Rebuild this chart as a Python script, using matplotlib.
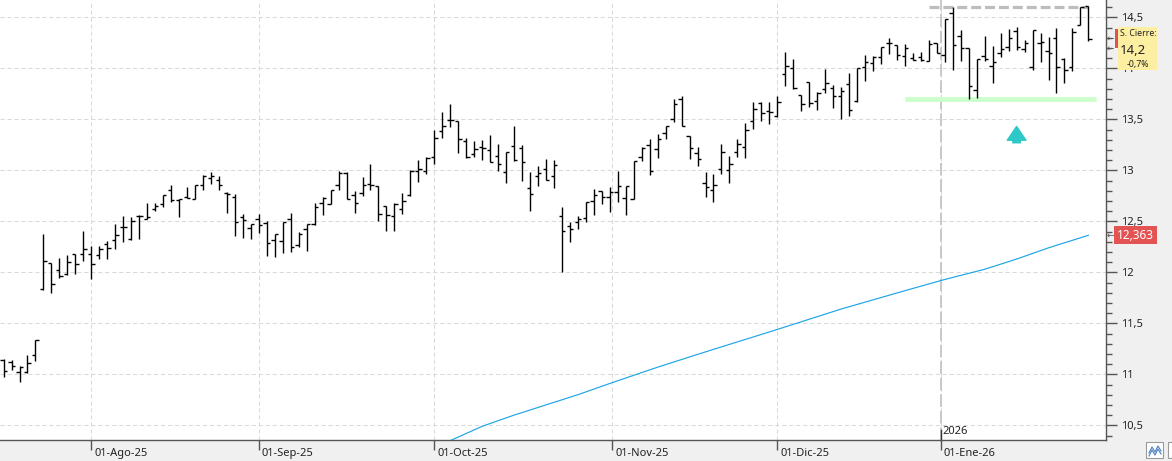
import numpy as np
import pandas as pd
import matplotlib
matplotlib.use("Agg")
import matplotlib.pyplot as plt
import matplotlib.transforms as mtransforms
from matplotlib.patches import Rectangle
from matplotlib.ticker import MultipleLocator, FuncFormatter

plt.rcParams['font.family'] = ['Noto Sans', 'DejaVu Sans']

# trading days (BME closed on these)
holidays = ['2025-12-25', '2025-12-26', '2026-01-01']
dates = pd.bdate_range('2025-07-17', '2026-01-28')
dates = dates[~dates.isin(pd.to_datetime(holidays))]

opens = [11.14, 11.12, 11.02, 11.02, 11.19, 11.84, 12.09, 12.02, 11.98, 12.18,
         12.18, 12.18, 12.17, 12.28, 12.32, 12.44, 12.33, 12.55, 12.52, 12.62,
         12.67, 12.81, 12.71, 12.74, 12.72, 12.86, 12.92, 12.91, 12.78, 12.74,
         12.54, 12.43, 12.52, 12.48, 12.32, 12.31, 12.52, 12.27, 12.42, 12.47,
         12.68, 12.67, 12.86, 12.97, 12.76, 12.78, 12.87, 12.85, 12.65, 12.55,
         12.62, 12.76, 12.99, 12.99, 13.13, 13.39, 13.49, 13.48, 13.29, 13.16,
         13.23, 13.20, 13.14, 12.98, 13.24, 13.22, 12.83, 12.94, 13.01, 12.94,
         12.55, 12.45, 12.49, 12.53, 12.70, 12.80, 12.74, 12.79, 12.73, 12.72,
         13.13, 13.25, 13.21, 13.37, 13.50, 13.70, 13.34, 13.17, 12.88, 12.81,
         13.01, 13.00, 13.18, 13.23, 13.48, 13.66, 13.58, 13.53, 13.94, 14.00,
         13.74, 13.87, 13.68, 13.80, 13.81, 13.73, 13.85, 13.68, 14.01, 14.05,
         14.11, 14.25, 14.23, 14.12, 14.10, 14.11, 14.07, 14.25, 14.13, 14.54,
         14.32, 14.20, 13.79, 14.12, 14.02, 14.15, 14.21, 14.37, 14.19, 14.01,
         14.25, 14.17, 14.30, 14.09, 14.01, 14.42, 14.61]
highs = [11.15, 11.14, 11.08, 11.19, 11.34, 12.38, 12.09, 12.14, 12.17, 12.18,
         12.41, 12.26, 12.26, 12.31, 12.47, 12.55, 12.54, 12.56, 12.68, 12.68,
         12.76, 12.86, 12.72, 12.84, 12.86, 12.95, 12.98, 12.94, 12.79, 12.77,
         12.57, 12.47, 12.57, 12.50, 12.38, 12.49, 12.58, 12.40, 12.47, 12.68,
         12.74, 12.81, 12.99, 12.98, 12.80, 12.93, 13.06, 12.85, 12.65, 12.68,
         12.78, 13.00, 13.10, 13.13, 13.40, 13.57, 13.65, 13.48, 13.32, 13.29,
         13.30, 13.35, 13.26, 13.18, 13.43, 13.25, 12.98, 13.04, 13.11, 13.10,
         12.64, 12.49, 12.55, 12.69, 12.82, 12.80, 12.84, 12.99, 12.85, 13.09,
         13.23, 13.31, 13.36, 13.43, 13.70, 13.73, 13.34, 13.23, 12.98, 12.96,
         13.26, 13.14, 13.31, 13.46, 13.67, 13.67, 13.67, 13.73, 14.16, 14.09,
         13.74, 13.87, 13.77, 13.99, 13.84, 13.82, 13.95, 14.00, 14.13, 14.12,
         14.21, 14.30, 14.23, 14.24, 14.15, 14.16, 14.28, 14.25, 14.48, 14.60,
         14.38, 14.20, 14.09, 14.32, 14.22, 14.35, 14.39, 14.41, 14.28, 14.38,
         14.35, 14.31, 14.40, 14.10, 14.40, 14.60, 14.61]
lows = [10.97, 11.04, 10.92, 11.01, 11.13, 11.83, 11.80, 11.94, 11.97, 11.98,
        12.11, 11.93, 12.13, 12.13, 12.23, 12.30, 12.32, 12.33, 12.52, 12.60,
        12.64, 12.69, 12.54, 12.73, 12.72, 12.81, 12.87, 12.81, 12.58, 12.36,
        12.34, 12.33, 12.39, 12.16, 12.15, 12.19, 12.20, 12.25, 12.21, 12.46,
        12.56, 12.67, 12.81, 12.72, 12.58, 12.75, 12.81, 12.50, 12.41, 12.41,
        12.57, 12.75, 12.89, 12.96, 13.06, 13.32, 13.42, 13.17, 13.12, 13.13,
        13.10, 13.08, 12.99, 12.88, 13.09, 12.90, 12.60, 12.85, 12.91, 12.83,
        12.00, 12.30, 12.42, 12.49, 12.56, 12.67, 12.59, 12.69, 12.56, 12.72,
        13.09, 12.95, 13.12, 13.31, 13.47, 13.43, 13.11, 13.04, 12.74, 12.69,
        12.96, 12.88, 13.13, 13.12, 13.41, 13.48, 13.45, 13.52, 13.83, 13.80,
        13.58, 13.62, 13.59, 13.76, 13.61, 13.50, 13.53, 13.67, 13.88, 13.97,
        14.04, 14.14, 14.08, 14.02, 14.08, 14.07, 14.07, 14.15, 14.06, 13.98,
        14.07, 13.70, 13.71, 14.07, 13.86, 14.11, 14.17, 14.18, 14.16, 13.98,
        14.06, 13.89, 13.76, 13.86, 13.97, 14.42, 14.27]
closes = [11.03, 11.08, 11.07, 11.11, 11.34, 12.11, 11.89, 11.96, 12.10, 12.08,
          12.23, 12.08, 12.23, 12.24, 12.37, 12.44, 12.50, 12.55, 12.54, 12.65,
          12.76, 12.71, 12.72, 12.73, 12.86, 12.94, 12.94, 12.86, 12.77, 12.49,
          12.51, 12.47, 12.46, 12.29, 12.38, 12.49, 12.25, 12.38, 12.47, 12.64,
          12.73, 12.81, 12.97, 12.72, 12.68, 12.86, 12.86, 12.57, 12.56, 12.67,
          12.70, 12.99, 13.01, 13.12, 13.32, 13.43, 13.49, 13.31, 13.13, 13.21,
          13.22, 13.08, 13.06, 13.18, 13.10, 13.08, 12.77, 12.97, 12.91, 13.05,
          12.41, 12.42, 12.52, 12.69, 12.76, 12.74, 12.79, 12.85, 12.85, 13.09,
          13.22, 12.99, 13.31, 13.43, 13.65, 13.43, 13.22, 13.11, 12.84, 12.86,
          13.18, 13.06, 13.26, 13.40, 13.60, 13.56, 13.57, 13.67, 14.02, 13.81,
          13.65, 13.66, 13.76, 13.86, 13.73, 13.78, 13.59, 14.00, 14.06, 14.11,
          14.21, 14.25, 14.13, 14.20, 14.08, 14.08, 14.24, 14.15, 14.48, 14.23,
          14.20, 13.83, 14.09, 14.09, 14.06, 14.19, 14.30, 14.21, 14.25, 14.38,
          14.26, 14.15, 14.01, 13.98, 14.36, 14.60, 14.29]

ma_idx = [54, 56, 60, 64, 68, 72, 76, 82, 88, 97, 105, 113, 118, 123, 127, 131, 136]
ma_val = [10.29, 10.35, 10.49, 10.60, 10.70, 10.80, 10.91, 11.07, 11.22, 11.44,
          11.64, 11.82, 11.93, 12.03, 12.13, 12.24, 12.363]

month_starts = ['2025-08-01', '2025-09-01', '2025-10-01', '2025-11-01',
                '2025-12-01', '2026-01-01']
month_labels = ['01-Ago-25', '01-Sep-25', '01-Oct-25', '01-Nov-25',
                '01-Dic-25', '01-Ene-26']

support_level, support_from, support_to = 13.70, 113, 137
top_level, top_from, top_to = 14.60, 116, 136
signal_idx, signal_lo, signal_hi = 127, 13.27, 13.43
ma_last = 12.363

W, H = 1172, 461
fig = plt.figure(figsize=(W / 100, H / 100), dpi=100, facecolor='#f0f0f0')
ax = fig.add_axes([0, 21 / H, 1105.7 / W, 440 / H])
ax.set_facecolor('white')

idx = np.arange(len(dates))
ords = np.array([d.toordinal() for d in dates])
month_x = np.interp([pd.Timestamp(m).toordinal() for m in month_starts], ords, idx)

ax.set_xlim(-0.445, 138.17)
ax.set_ylim(10.356, 14.67)

# grid
ax.set_xticks(month_x)
ax.set_xticklabels(month_labels)
ax.yaxis.set_major_locator(MultipleLocator(0.5))
ax.yaxis.set_minor_locator(MultipleLocator(0.1))
ax.grid(True, which='major', color='#d9d9d9', lw=0.75, linestyle=(0, (4, 2.7)))
ax.set_axisbelow(True)

for s in ['left', 'top']:
    ax.spines[s].set_visible(False)
for s in ['right', 'bottom']:
    ax.spines[s].set_color('#555555')
    ax.spines[s].set_linewidth(1)

ax.yaxis.tick_right()
ax.yaxis.set_major_formatter(FuncFormatter(lambda v, _: ('%g' % v).replace('.', ',')))
ax.tick_params(axis='y', which='major', length=8, width=1, color='#555555',
               pad=3, labelsize=8, labelcolor='#222222')
ax.tick_params(axis='y', which='minor', length=4, width=1, color='#555555')
ax.tick_params(axis='x', length=7, width=1, color='#555555', pad=-1,
               labelsize=8, labelcolor='#222222')
shift = mtransforms.ScaledTranslation(3 / 100, 0, fig.dpi_scale_trans)
for lbl in ax.get_xticklabels():
    lbl.set_ha('left')
    lbl.set_transform(lbl.get_transform() + shift)

# year separator
year_x = month_x[-1]
ax.axvline(year_x, color='#c8c8c8', lw=1.4, dashes=(6.5, 2), zorder=1)
bt = mtransforms.blended_transform_factory(ax.transData, ax.transAxes)
ax.plot([year_x, year_x], [0, 10 / 440], transform=bt, color='#333333', lw=1, clip_on=False)
ax.text(year_x, 0, '2026', transform=bt + mtransforms.ScaledTranslation(2 / 100, 3 / 100, fig.dpi_scale_trans),
        fontsize=8, color='#222222', ha='left', va='bottom')

# levels
ax.hlines(support_level, support_from, support_to, color='#ccffcc', lw=3.6, zorder=2)
ax.hlines(top_level, top_from, top_to, color='#bdbdbd', lw=2.3, linestyles=(0, (3.1, 1.25)), zorder=2)

# moving average
ax.plot(ma_idx, ma_val, color='#1ea5e6', lw=0.85, zorder=3)

# OHLC bars
o = np.array(opens); h = np.array(highs); l = np.array(lows); c = np.array(closes)
ax.vlines(idx, l, h, color='black', lw=1.0, zorder=4)
ax.hlines(o, idx - 0.42, idx, color='black', lw=1.0, zorder=4)
ax.hlines(c, idx, idx + 0.42, color='black', lw=1.0, zorder=4)

# signal arrow
ax.annotate('', xy=(signal_idx, signal_hi), xytext=(signal_idx, signal_lo),
            arrowprops=dict(arrowstyle='simple,head_length=0.55,head_width=0.75,tail_width=0.3',
                            color='#2ec8c8', shrinkA=0, shrinkB=0, mutation_scale=18), zorder=5)

# right side labels (drawn in ax, above the tick labels)
ft = fig.transFigure
def fx(x):
    return x / W
def fy(y):
    return 1 - y / H

ax.add_patch(Rectangle((fx(1118), fy(70)), 39 / W, 43 / H, transform=ft,
                       fc='#fcefa2', ec='none', zorder=10, clip_on=False))
ax.add_patch(Rectangle((fx(1115), fy(48)), 3 / W, 19 / H, transform=ft,
                       fc='#e05252', ec='none', zorder=11, clip_on=False))
ax.text(fx(1120), fy(34), 'S. Cierre:', transform=ft, fontsize=6.3, color='#222222',
        va='center', ha='left', zorder=12, clip_on=False)
ax.text(fx(1120), fy(50), '14,2', transform=ft, fontsize=9.5, color='#222222',
        va='center', ha='left', zorder=12, clip_on=False)
ax.text(fx(1127), fy(64), '-0,7%', transform=ft, fontsize=6.3, color='#222222',
        va='center', ha='left', zorder=12, clip_on=False)
for yy in [38, 48]:
    ax.text(fx(1107), fy(yy), '←', transform=ft, fontsize=6.5, color='#555555',
            va='center', ha='left', zorder=12, clip_on=False)

bty = mtransforms.blended_transform_factory(ft, ax.transData)
ax.text(fx(1117), ma_last, ('%.3f' % ma_last).replace('.', ','), transform=bty,
        fontsize=8.5, color='white', va='center', ha='left', clip_on=False,
        bbox=dict(boxstyle='square,pad=0.22', fc='#e35353', ec='none'), zorder=12)
ax.text(fx(1107), ma_last, '←', transform=bty, fontsize=6.5, color='#555555',
        va='center', ha='left', clip_on=False, zorder=12)

# small corner buttons
fig.patches.append(Rectangle((fx(1146), fy(458)), 17 / W, 16 / H, transform=ft,
                             fc='white', ec='#9a9a9a', lw=0.8))
fig.patches.append(Rectangle((fx(1168), fy(458)), 8 / W, 16 / H, transform=ft,
                             fc='white', ec='#9a9a9a', lw=0.8))
zx = [1149, 1152, 1155, 1158, 1161]
fig.lines.append(plt.Line2D([fx(v) for v in zx], [fy(v) for v in [453, 447, 452, 446, 451]],
                            transform=ft, color='#4a7fc0', lw=0.8))
fig.lines.append(plt.Line2D([fx(v) for v in zx], [fy(v) for v in [456, 450, 455, 449, 454]],
                            transform=ft, color='#4a7fc0', lw=0.8))

fig.savefig('out.png', dpi=100, facecolor=fig.get_facecolor())
